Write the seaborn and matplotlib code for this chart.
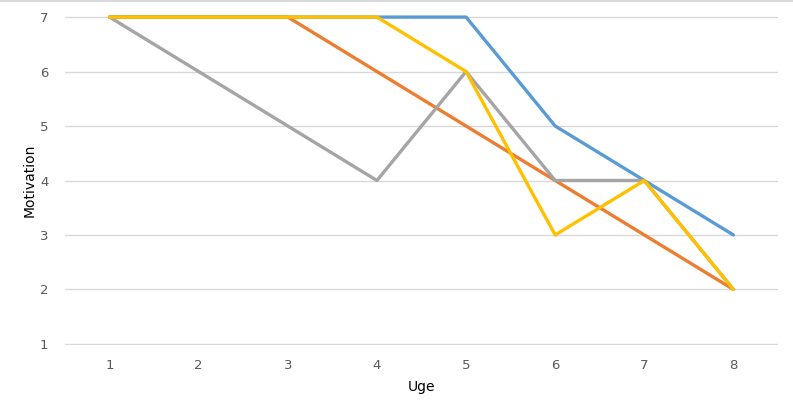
import numpy as np
import matplotlib.pyplot as plt
import seaborn as sns
import pandas as pd

# Data
uge = [1, 2, 3, 4, 5, 6, 7, 8]
serie_blaa = [7, 7, 7, 7, 7, 5, 4, 3]
serie_orange = [7, 7, 7, 6, 5, 4, 3, 2]
serie_graa = [7, 6, 5, 4, 6, 4, 4, 2]
serie_gul = [7, 7, 7, 7, 6, 3, 4, 2]

data = pd.DataFrame({
    'Uge': uge * 4,
    'Motivation': serie_blaa + serie_orange + serie_graa + serie_gul,
    'Serie': ['A'] * 8 + ['B'] * 8 + ['C'] * 8 + ['D'] * 8,
})
palette = {'A': '#5B9BD5', 'B': '#ED7D31', 'C': '#A5A5A5', 'D': '#FFC000'}

sns.set_style('white')
plt.rcParams['font.family'] = ['DejaVu Sans']

fig = plt.figure(figsize=(7.93, 4.0), dpi=100)
ax = fig.add_axes([65 / 793, 1 - 345 / 400, (778 - 65) / 793, (345 - 16) / 400])

sns.lineplot(data=data, x='Uge', y='Motivation', hue='Serie', palette=palette,
             linewidth=2.4, legend=False, ax=ax, clip_on=False, zorder=3)

ax.set_xlim(0.5, 8.5)
ax.set_ylim(0.98, 7.02)
ax.set_xticks(uge)
ax.set_yticks(range(1, 8))
ax.yaxis.grid(True, color='#D9D9D9', linewidth=1)
ax.xaxis.grid(False)
for s in ax.spines.values():
    s.set_visible(False)
ax.tick_params(axis='both', length=0, labelsize=9.5, labelcolor='#595959')
ax.tick_params(axis='x', pad=10)
ax.tick_params(axis='y', pad=12)
ax.set_xlabel('Uge', fontsize=10, color='#000000', labelpad=6)
ax.set_ylabel('Motivation', fontsize=10, color='#000000', labelpad=2)

# thin chart border at the top
fig.add_artist(plt.Line2D([0, 1], [0.998, 0.998], color='#D9D9D9', linewidth=1.5,
                          transform=fig.transFigure))

fig.savefig('out.png', dpi=100)
